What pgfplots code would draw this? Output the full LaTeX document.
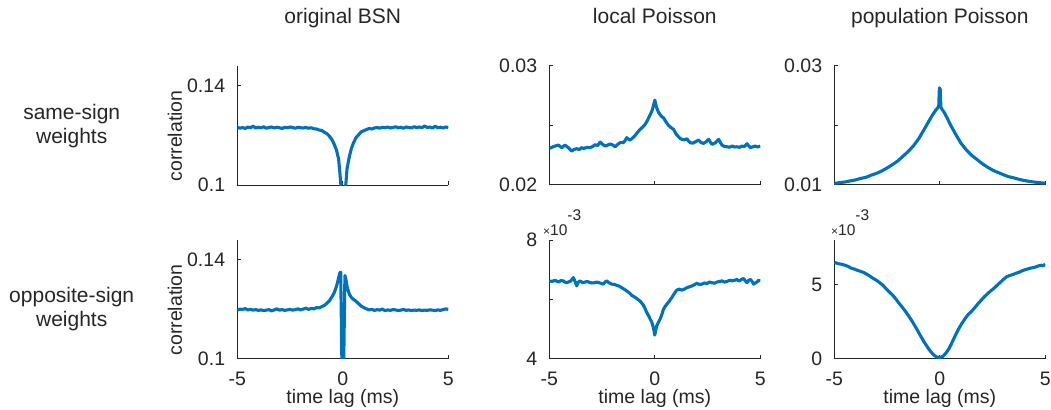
\documentclass[border=0pt]{standalone}
\usepackage{fontspec}
\setmainfont{Liberation Sans}
\usepackage{pgfplots}
\pgfplotsset{compat=1.18}
\definecolor{mblue}{RGB}{0,114,189}
\definecolor{axgray}{RGB}{38,38,38}
\newcommand{\tickfont}{\fontsize{19.5bp}{22bp}\selectfont}
\newcommand{\labfont}{\fontsize{19.5bp}{22bp}\selectfont}
\newcommand{\titfont}{\fontsize{21bp}{24bp}\selectfont}
\pgfplotsset{
  panel/.style={
    scale only axis, width=211bp,
    axis x line*=bottom, axis y line*=left,
    axis line style={axgray, line width=1bp},
    every tick/.style={axgray, line width=1bp},
    major tick length=3.5bp,
    tick align=inside,
    scaled y ticks=false,
    xmin=-5, xmax=5, xtick={-5,0,5},
    tick label style={font=\tickfont, text=axgray, inner sep=0pt},
    yticklabel style={anchor=east, xshift=-12bp},
    xticklabel style={anchor=base, yshift=-26.8bp},
    title style={font=\titfont, text=axgray, at={(axis description cs:0.5,1)}, anchor=base, yshift=36.2bp, inner sep=0pt},
    xlabel style={font=\labfont, text=axgray, at={(axis description cs:0.5,0)}, anchor=base, yshift=-45bp, inner sep=0pt},
    ylabel style={font=\labfont, text=axgray, at={(axis description cs:-0.263,0.41)}, anchor=base, inner sep=0pt},
  },
  toprow/.style={panel, height=119.5bp, xticklabels={}},
  botrow/.style={panel, height=118.5bp, xticklabels={-5,0,5}, xlabel={time lag (ms)}},
  curve/.style={mblue, line width=3.1bp, line join=round},
}
\begin{document}
\begin{tikzpicture}[x=1bp,y=1bp]
\path[use as bounding box] (0,0) rectangle (1051,409);

% ---------- top row ----------
\begin{axis}[toprow, at={(237.3bp,224bp)}, anchor=south west,
  title={original BSN}, ylabel={correlation},
  ymin=0.1, ymax=0.148, ytick={0.1,0.14}, yticklabels={0.1,0.14}]
\addplot[curve] coordinates {
(-5.000,0.1232) (-4.875,0.1228) (-4.750,0.1231) (-4.625,0.1227) (-4.500,0.1233)
(-4.375,0.1230) (-4.250,0.1236) (-4.125,0.1229) (-4.000,0.1232) (-3.875,0.1230)
(-3.750,0.1234) (-3.625,0.1228) (-3.500,0.1231) (-3.375,0.1233) (-3.250,0.1229)
(-3.125,0.1232) (-3.000,0.1230) (-2.875,0.1227) (-2.750,0.1232) (-2.625,0.1230)
(-2.500,0.1233) (-2.375,0.1231) (-2.250,0.1228) (-2.125,0.1232) (-2.000,0.1230)
(-1.875,0.1229) (-1.750,0.1231) (-1.625,0.1228) (-1.500,0.1230) (-1.375,0.1226)
(-1.250,0.1225) (-1.125,0.1221) (-1.000,0.1219) (-0.875,0.1212) (-0.750,0.1206)
(-0.625,0.1195) (-0.500,0.1180) (-0.400,0.1162) (-0.300,0.1140) (-0.200,0.1105)
(-0.150,0.1060) (-0.100,0.1010) (-0.050,0.0950) (0.000,0.0900) (0.050,0.0920)
(0.100,0.0970) (0.150,0.1010) (0.200,0.1065) (0.300,0.1110) (0.400,0.1145)
(0.500,0.1168) (0.625,0.1190) (0.750,0.1202) (0.875,0.1214) (1.000,0.1218)
(1.125,0.1223) (1.250,0.1227) (1.375,0.1225) (1.500,0.1229) (1.625,0.1231)
(1.750,0.1228) (1.875,0.1232) (2.000,0.1230) (2.125,0.1233) (2.250,0.1229)
(2.375,0.1231) (2.500,0.1234) (2.625,0.1230) (2.750,0.1232) (2.875,0.1228)
(3.000,0.1233) (3.125,0.1231) (3.250,0.1229) (3.375,0.1234) (3.500,0.1231)
(3.625,0.1233) (3.750,0.1230) (3.875,0.1237) (4.000,0.1231) (4.125,0.1233)
(4.250,0.1229) (4.375,0.1236) (4.500,0.1230) (4.625,0.1232) (4.750,0.1229)
(4.875,0.1233) (5.000,0.1231)};
\end{axis}

\begin{axis}[toprow, at={(549.3bp,224bp)}, anchor=south west,
  title={local Poisson},
  ymin=0.02, ymax=0.03, ytick={0.02,0.025,0.03}, yticklabels={0.02,,0.03}]
\addplot[curve] coordinates {
(-5.00,0.02306) (-4.85,0.02318) (-4.73,0.02326) (-4.57,0.02334) (-4.41,0.02312)
(-4.26,0.02334) (-4.10,0.02312) (-3.94,0.02284) (-3.82,0.02298) (-3.70,0.02304)
(-3.58,0.02296) (-3.47,0.02312) (-3.35,0.02306) (-3.23,0.02315) (-3.07,0.02312)
(-2.95,0.02322) (-2.83,0.02337) (-2.71,0.02330) (-2.59,0.02359) (-2.47,0.02340)
(-2.36,0.02326) (-2.24,0.02334) (-2.12,0.02343) (-2.00,0.02336) (-1.88,0.02320)
(-1.76,0.02340) (-1.65,0.02354) (-1.49,0.02354) (-1.41,0.02372) (-1.33,0.02396)
(-1.25,0.02384) (-1.17,0.02376) (-1.05,0.02394) (-0.93,0.02415) (-0.82,0.02440)
(-0.70,0.02465) (-0.58,0.02484) (-0.46,0.02507) (-0.35,0.02540) (-0.25,0.02577)
(-0.14,0.02618) (-0.07,0.02660) (0.00,0.02710) (0.09,0.02646) (0.17,0.02610)
(0.25,0.02590) (0.33,0.02572) (0.41,0.02563) (0.53,0.02528) (0.65,0.02499)
(0.77,0.02480) (0.89,0.02465) (1.00,0.02430) (1.12,0.02404) (1.20,0.02390)
(1.28,0.02382) (1.40,0.02378) (1.52,0.02387) (1.60,0.02368) (1.68,0.02354)
(1.80,0.02350) (1.91,0.02360) (2.07,0.02376) (2.19,0.02356) (2.31,0.02348)
(2.43,0.02362) (2.55,0.02382) (2.63,0.02360) (2.71,0.02340) (2.86,0.02352)
(3.02,0.02382) (3.18,0.02334) (3.30,0.02322) (3.42,0.02320) (3.54,0.02316)
(3.66,0.02326) (3.78,0.02318) (3.89,0.02320) (4.01,0.02315) (4.13,0.02326)
(4.25,0.02322) (4.37,0.02345) (4.53,0.02312) (4.65,0.02320) (4.76,0.02326)
(4.88,0.02318) (5.00,0.02326)};
\end{axis}

\begin{axis}[toprow, at={(834.3bp,224bp)}, anchor=south west,
  title={population Poisson},
  ymin=0.01, ymax=0.03, ytick={0.01,0.02,0.03}, yticklabels={0.01,,0.03}]
\addplot[curve] coordinates {
(-5.00,0.01025) (-4.75,0.01040) (-4.50,0.01050) (-4.25,0.01068) (-4.00,0.01085)
(-3.75,0.01110) (-3.50,0.01128) (-3.25,0.01165) (-3.00,0.01195) (-2.75,0.01235)
(-2.50,0.01285) (-2.25,0.01340) (-2.00,0.01400) (-1.75,0.01480) (-1.50,0.01560)
(-1.25,0.01655) (-1.00,0.01775) (-0.75,0.01925) (-0.50,0.02080) (-0.35,0.02170)
(-0.20,0.02250) (-0.10,0.02290) (-0.05,0.02330) (-0.02,0.02625) (0.02,0.02600)
(0.05,0.02300) (0.10,0.02270) (0.20,0.02220) (0.35,0.02120) (0.50,0.02010)
(0.75,0.01850) (1.00,0.01700) (1.25,0.01590) (1.50,0.01500) (1.75,0.01430)
(2.00,0.01360) (2.25,0.01300) (2.50,0.01250) (2.75,0.01210) (3.00,0.01175)
(3.25,0.01140) (3.50,0.01120) (3.75,0.01095) (4.00,0.01075) (4.25,0.01060)
(4.50,0.01048) (4.75,0.01038) (5.00,0.01030)};
\end{axis}

% ---------- bottom row ----------
\begin{axis}[botrow, at={(237.3bp,50.5bp)}, anchor=south west,
  ylabel={correlation},
  ymin=0.1, ymax=0.148, ytick={0.1,0.14}, yticklabels={0.1,0.14}]
\addplot[curve] coordinates {
(-5.000,0.1196) (-4.875,0.1200) (-4.750,0.1199) (-4.625,0.1202) (-4.500,0.1197)
(-4.375,0.1199) (-4.250,0.1196) (-4.125,0.1198) (-4.000,0.1195) (-3.875,0.1197)
(-3.750,0.1194) (-3.625,0.1196) (-3.500,0.1198) (-3.375,0.1193) (-3.250,0.1197)
(-3.125,0.1201) (-3.000,0.1196) (-2.875,0.1198) (-2.750,0.1195) (-2.625,0.1197)
(-2.500,0.1199) (-2.375,0.1196) (-2.250,0.1198) (-2.125,0.1201) (-2.000,0.1197)
(-1.875,0.1200) (-1.750,0.1204) (-1.625,0.1199) (-1.500,0.1203) (-1.375,0.1201)
(-1.250,0.1206) (-1.125,0.1205) (-1.000,0.1210) (-0.875,0.1215) (-0.750,0.1224)
(-0.625,0.1235) (-0.500,0.1252) (-0.400,0.1268) (-0.300,0.1292) (-0.200,0.1325)
(-0.150,0.1345) (-0.100,0.1350) (-0.030,0.0900) (0.030,0.0900) (0.100,0.1336)
(0.150,0.1320) (0.200,0.1292) (0.300,0.1262) (0.400,0.1248) (0.500,0.1240)
(0.625,0.1232) (0.750,0.1222) (0.875,0.1212) (1.000,0.1206) (1.125,0.1201)
(1.250,0.1197) (1.375,0.1199) (1.500,0.1195) (1.625,0.1198) (1.750,0.1196)
(1.875,0.1200) (2.000,0.1194) (2.125,0.1197) (2.250,0.1195) (2.375,0.1198)
(2.500,0.1197) (2.625,0.1194) (2.750,0.1196) (2.875,0.1199) (3.000,0.1195)
(3.125,0.1197) (3.250,0.1194) (3.375,0.1196) (3.500,0.1195) (3.625,0.1197)
(3.750,0.1194) (3.875,0.1196) (4.000,0.1195) (4.125,0.1197) (4.250,0.1196)
(4.375,0.1194) (4.500,0.1197) (4.625,0.1195) (4.750,0.1198) (4.875,0.1201)
(5.000,0.1199)};
\end{axis}

\begin{axis}[botrow, at={(549.3bp,50.5bp)}, anchor=south west,
  ymin=4, ymax=8, ytick={4,6,8}, yticklabels={4,,8}]
\addplot[curve] coordinates {
(-5.00,6.62) (-4.87,6.60) (-4.73,6.64) (-4.57,6.58) (-4.45,6.63) (-4.34,6.62)
(-4.22,6.56) (-4.10,6.58) (-3.98,6.62) (-3.86,6.73) (-3.78,6.60) (-3.70,6.45)
(-3.62,6.58) (-3.54,6.62) (-3.42,6.56) (-3.31,6.58) (-3.19,6.60) (-3.07,6.56)
(-2.91,6.55) (-2.75,6.58) (-2.60,6.55) (-2.44,6.51) (-2.36,6.58) (-2.28,6.62)
(-2.16,6.55) (-2.04,6.51) (-1.92,6.50) (-1.80,6.47) (-1.68,6.44) (-1.57,6.39)
(-1.45,6.34) (-1.33,6.28) (-1.21,6.22) (-1.09,6.13) (-0.97,6.08) (-0.85,6.02)
(-0.70,5.94) (-0.54,5.80) (-0.46,5.68) (-0.38,5.55) (-0.30,5.45) (-0.22,5.33)
(-0.15,5.24) (-0.09,5.10) (-0.04,4.95) (0.00,4.79) (0.04,4.95) (0.09,5.10)
(0.17,5.22) (0.25,5.33) (0.33,5.48) (0.41,5.66) (0.49,5.76) (0.57,5.83)
(0.69,5.94) (0.81,6.06) (0.93,6.20) (1.04,6.31) (1.16,6.34) (1.28,6.31)
(1.40,6.34) (1.52,6.39) (1.64,6.42) (1.76,6.45) (1.88,6.49) (1.99,6.54)
(2.11,6.50) (2.23,6.51) (2.35,6.55) (2.47,6.53) (2.59,6.58) (2.71,6.56)
(2.83,6.54) (2.94,6.58) (3.06,6.60) (3.18,6.62) (3.30,6.58) (3.42,6.60)
(3.54,6.64) (3.66,6.62) (3.78,6.64) (3.89,6.67) (3.97,6.62) (4.05,6.64)
(4.13,6.68) (4.21,6.70) (4.29,6.62) (4.37,6.56) (4.45,6.64) (4.53,6.67)
(4.61,6.60) (4.68,6.51) (4.76,6.55) (4.84,6.58) (4.92,6.64) (5.00,6.62)};
\end{axis}

\begin{axis}[botrow, at={(834.3bp,50.5bp)}, anchor=south west,
  ymin=0, ymax=8, ytick={0,5}, yticklabels={0,5}]
\addplot[curve] coordinates {
(-5.00,6.48) (-4.80,6.40) (-4.65,6.36) (-4.50,6.30) (-4.35,6.22) (-4.20,6.10)
(-4.05,6.04) (-3.90,5.95) (-3.75,5.88) (-3.60,5.80) (-3.45,5.68) (-3.30,5.55)
(-3.15,5.40) (-3.00,5.28) (-2.85,5.12) (-2.70,4.95) (-2.55,4.72) (-2.40,4.50)
(-2.25,4.30) (-2.10,4.05) (-1.95,3.76) (-1.80,3.50) (-1.65,3.22) (-1.50,2.92)
(-1.35,2.60) (-1.20,2.25) (-1.05,1.88) (-0.90,1.50) (-0.75,1.13) (-0.60,0.80)
(-0.45,0.50) (-0.30,0.25) (-0.15,0.10) (0.00,0.06) (0.15,0.15) (0.30,0.38)
(0.45,0.70) (0.60,1.15) (0.75,1.60) (0.90,2.02) (1.05,2.38) (1.20,2.70)
(1.35,2.98) (1.50,3.18) (1.65,3.42) (1.80,3.68) (1.95,3.92) (2.10,4.15)
(2.25,4.36) (2.40,4.55) (2.55,4.72) (2.70,4.92) (2.85,5.12) (3.00,5.32)
(3.15,5.50) (3.30,5.60) (3.45,5.66) (3.60,5.75) (3.75,5.82) (3.90,5.92)
(4.05,6.00) (4.20,6.06) (4.35,6.12) (4.50,6.16) (4.65,6.24) (4.80,6.30)
(4.90,6.25) (5.00,6.38)};
\end{axis}

% exponent labels
\node[anchor=base west, inner sep=0pt, text=axgray] at (543,174)
  {\fontsize{12bp}{14bp}\selectfont ×\fontsize{15.5bp}{18bp}\selectfont 10\raisebox{15bp}{-3}};
\node[anchor=base west, inner sep=0pt, text=axgray] at (831,174)
  {\fontsize{12bp}{14bp}\selectfont ×\fontsize{15.5bp}{18bp}\selectfont 10\raisebox{15bp}{-3}};

% row labels
\node[anchor=base, inner sep=0pt, text=axgray, font=\titfont] at (71.7,290) {same-sign};
\node[anchor=base, inner sep=0pt, text=axgray, font=\titfont] at (71.7,265.5) {weights};
\node[anchor=base, inner sep=0pt, text=axgray, font=\titfont] at (71.7,107) {opposite-sign};
\node[anchor=base, inner sep=0pt, text=axgray, font=\titfont] at (71.7,82.5) {weights};
\end{tikzpicture}
\end{document}
